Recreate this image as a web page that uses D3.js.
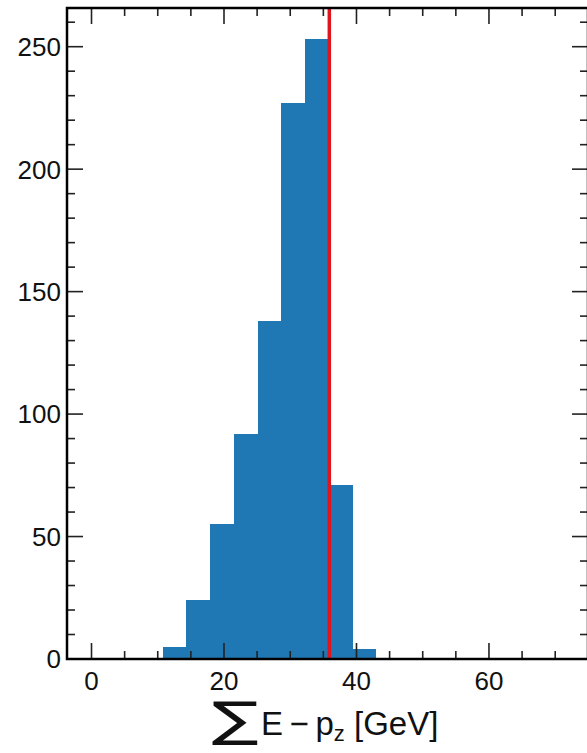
<!DOCTYPE html>
<html>
<head>
<meta charset="utf-8">
<script src="https://cdn.jsdelivr.net/npm/d3@7"></script>
<style>
  html, body { margin: 0; padding: 0; background: #fff; }
  svg { display: block; font-family: "Liberation Sans", Arial, sans-serif; }
</style>
</head>
<body>
<div id="chart"></div>
<script>
// histogram of sum(E - pz), GeV
const binEdges = [10.75, 14.33, 17.92, 21.5, 25.08, 28.67, 32.25, 35.83, 39.42, 43.0]
const counts = [5, 24, 55, 92, 138, 227, 253, 71, 4]
const cutValue = 35.9
const xTicks = [0, 20, 40, 60]
const yTicks = [0, 50, 100, 150, 200, 250]

const width = 587
const height = 753
const frame = { left: 67, right: 588, top: 8, bottom: 659 }

const svg = d3.select('#chart')
  .append('svg')
  .attr('width', width)
  .attr('height', height)

// scales
const x = d3.scaleLinear()
  .domain([-3.7, 74.95])
  .range([frame.left, frame.right])
const y = d3.scaleLinear()
  .domain([0, 265.8])
  .range([frame.bottom, frame.top])

// bars
const bins = counts.map((c, i) => ({ x0: binEdges[i], x1: binEdges[i + 1], n: c }))
svg.append('g')
  .selectAll('rect')
  .data(bins)
  .enter()
  .append('rect')
  .attr('x', d => x(d.x0))
  .attr('y', d => y(d.n))
  .attr('width', d => x(d.x1) - x(d.x0))
  .attr('height', d => y(0) - y(d.n))
  .attr('fill', '#1f77b4')
  .attr('shape-rendering', 'crispEdges')

// cut line
svg.append('line')
  .attr('x1', x(cutValue)).attr('x2', x(cutValue))
  .attr('y1', frame.top).attr('y2', frame.bottom)
  .attr('stroke', '#e0141c')
  .attr('stroke-width', 3.5)

// ticks, drawn inward on all four sides
const xMinor = d3.range(0, 75, 5).filter(v => !xTicks.includes(v))
const yMinor = d3.range(0, 266, 10).filter(v => !yTicks.includes(v))
const tickG = svg.append('g').attr('stroke', '#222').attr('stroke-width', 1.6)

function xTick(v, len) {
  tickG.append('line').attr('x1', x(v)).attr('x2', x(v))
    .attr('y1', frame.bottom).attr('y2', frame.bottom - len)
  tickG.append('line').attr('x1', x(v)).attr('x2', x(v))
    .attr('y1', frame.top).attr('y2', frame.top + len)
}
function yTick(v, len) {
  tickG.append('line').attr('y1', y(v)).attr('y2', y(v))
    .attr('x1', frame.left).attr('x2', frame.left + len)
  tickG.append('line').attr('y1', y(v)).attr('y2', y(v))
    .attr('x1', frame.right).attr('x2', frame.right - len)
}
xTicks.forEach(v => xTick(v, 16))
xMinor.forEach(v => xTick(v, 8))
yTicks.forEach(v => yTick(v, 16))
yMinor.forEach(v => yTick(v, 8))

// frame
svg.append('rect')
  .attr('x', frame.left)
  .attr('y', frame.top)
  .attr('width', frame.right - frame.left)
  .attr('height', frame.bottom - frame.top)
  .attr('fill', 'none')
  .attr('stroke', '#000')
  .attr('stroke-width', 2.5)

// tick labels
svg.append('g')
  .selectAll('text')
  .data(xTicks)
  .enter()
  .append('text')
  .attr('x', d => x(d))
  .attr('y', 690)
  .attr('text-anchor', 'middle')
  .attr('font-size', 26)
  .attr('fill', '#111')
  .text(d => d)

svg.append('g')
  .selectAll('text')
  .data(yTicks)
  .enter()
  .append('text')
  .attr('x', 61)
  .attr('y', d => y(d))
  .attr('dy', '0.36em')
  .attr('text-anchor', 'end')
  .attr('font-size', 26)
  .attr('fill', '#111')
  .text(d => d)

// axis title: big sum sign, then E - p_z [GeV]
svg.append('text')
  .attr('transform', 'translate(212,736) scale(1.45,1)')
  .attr('font-family', 'DejaVu Sans')
  .attr('font-size', 48)
  .attr('fill', '#111')
  .text('\u2211')

const title = svg.append('text')
  .attr('x', 261)
  .attr('y', 735)
  .attr('font-size', 33)
  .attr('fill', '#111')
title.append('tspan').text('E\u2009\u2212\u2009p')
title.append('tspan').attr('font-size', 22).attr('dy', 6).text('z')
title.append('tspan').attr('dy', -6).text(' [GeV]')
</script>
</body>
</html>
